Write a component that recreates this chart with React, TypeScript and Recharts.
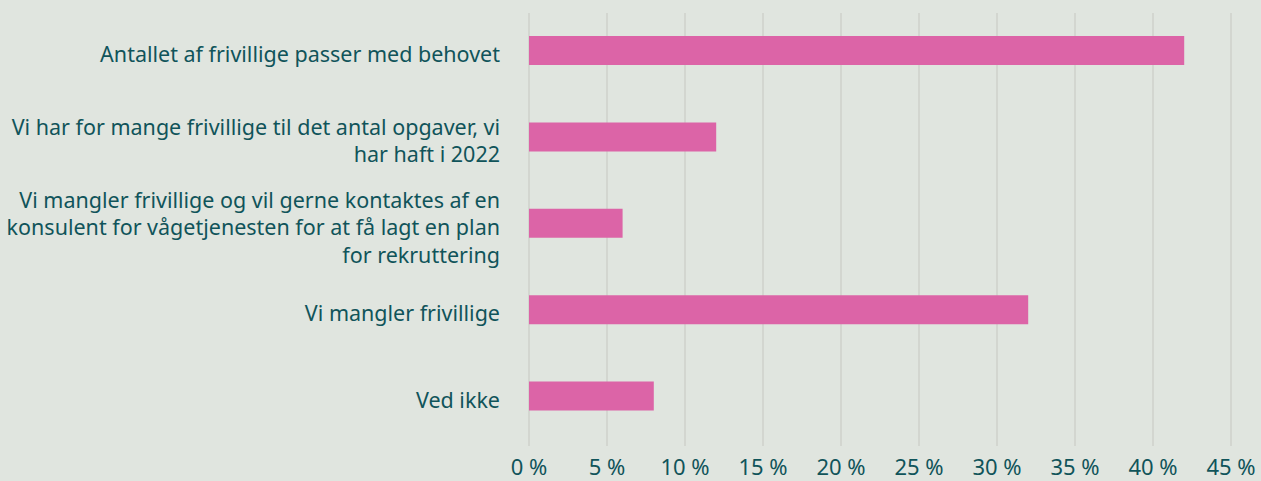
import { BarChart, Bar, XAxis, YAxis, CartesianGrid } from 'recharts';

const categories = [
  'Antallet af frivillige passer med behovet',
  'Vi har for mange frivillige til det antal opgaver, vi har haft i 2022',
  'Vi mangler frivillige og vil gerne kontaktes af en konsulent for vågetjenesten for at få lagt en plan for rekruttering',
  'Vi mangler frivillige',
  'Ved ikke',
];
const categoryLines = [
  ['Antallet af frivillige passer med behovet'],
  ['Vi har for mange frivillige til det antal opgaver, vi', 'har haft i 2022'],
  ['Vi mangler frivillige og vil gerne kontaktes af en', 'konsulent for vågetjenesten for at få lagt en plan', 'for rekruttering'],
  ['Vi mangler frivillige'],
  ['Ved ikke'],
];
const shares = [42, 12, 6, 32, 8];
const xTicks = [0, 5, 10, 15, 20, 25, 30, 35, 40, 45];

const data = categories.map((label, i) => ({ label, value: shares[i] }));

const TEXT = '#10545a';
const FONT = '"Noto Sans", sans-serif';

function CategoryTick({ x, y, payload }: any) {
  const idx = categories.indexOf(payload.value);
  const lines = categoryLines[idx] ?? [payload.value];
  const lh = 27.5;
  const start = y + 3 - ((lines.length - 1) * lh) / 2;
  return (
    <text x={x - 27} y={start} textAnchor="end" fill={TEXT} fontSize={21.5} fontFamily={FONT} dominantBaseline="central">
      {lines.map((l: string, i: number) => (
        <tspan key={i} x={x - 27} y={start + i * lh}>
          {l}
        </tspan>
      ))}
    </text>
  );
}

export default function App() {
  return (
    <div style={{ width: 1261, height: 481, background: '#e0e5df' }}>
      <style>{'body{margin:0}'}</style>
      <BarChart
        width={1261}
        height={481}
        data={data}
        layout="vertical"
        margin={{ top: 7, right: 30, bottom: 0, left: 0 }}
        barCategoryGap={0}
      >
        <CartesianGrid horizontal={false} stroke="#cfd1cb" strokeWidth={1.5} y={13} height={433} />
        <XAxis
          type="number"
          domain={[0, 45]}
          ticks={xTicks}
          tickFormatter={(v: number) => `${v} %`}
          axisLine={false}
          tickLine={false}
          height={35}
          tick={{ fill: TEXT, fontSize: 22, fontFamily: FONT }}
          tickMargin={7}
        />
        <YAxis
          type="category"
          dataKey="label"
          width={529}
          axisLine={false}
          tickLine={false}
          tickSize={0}
          padding={{ top: 0, bottom: 7 }}
          tick={<CategoryTick />}
          interval={0}
        />
        <Bar dataKey="value" fill="#dc64a7" barSize={29} isAnimationActive={false} />
      </BarChart>
    </div>
  );
}
